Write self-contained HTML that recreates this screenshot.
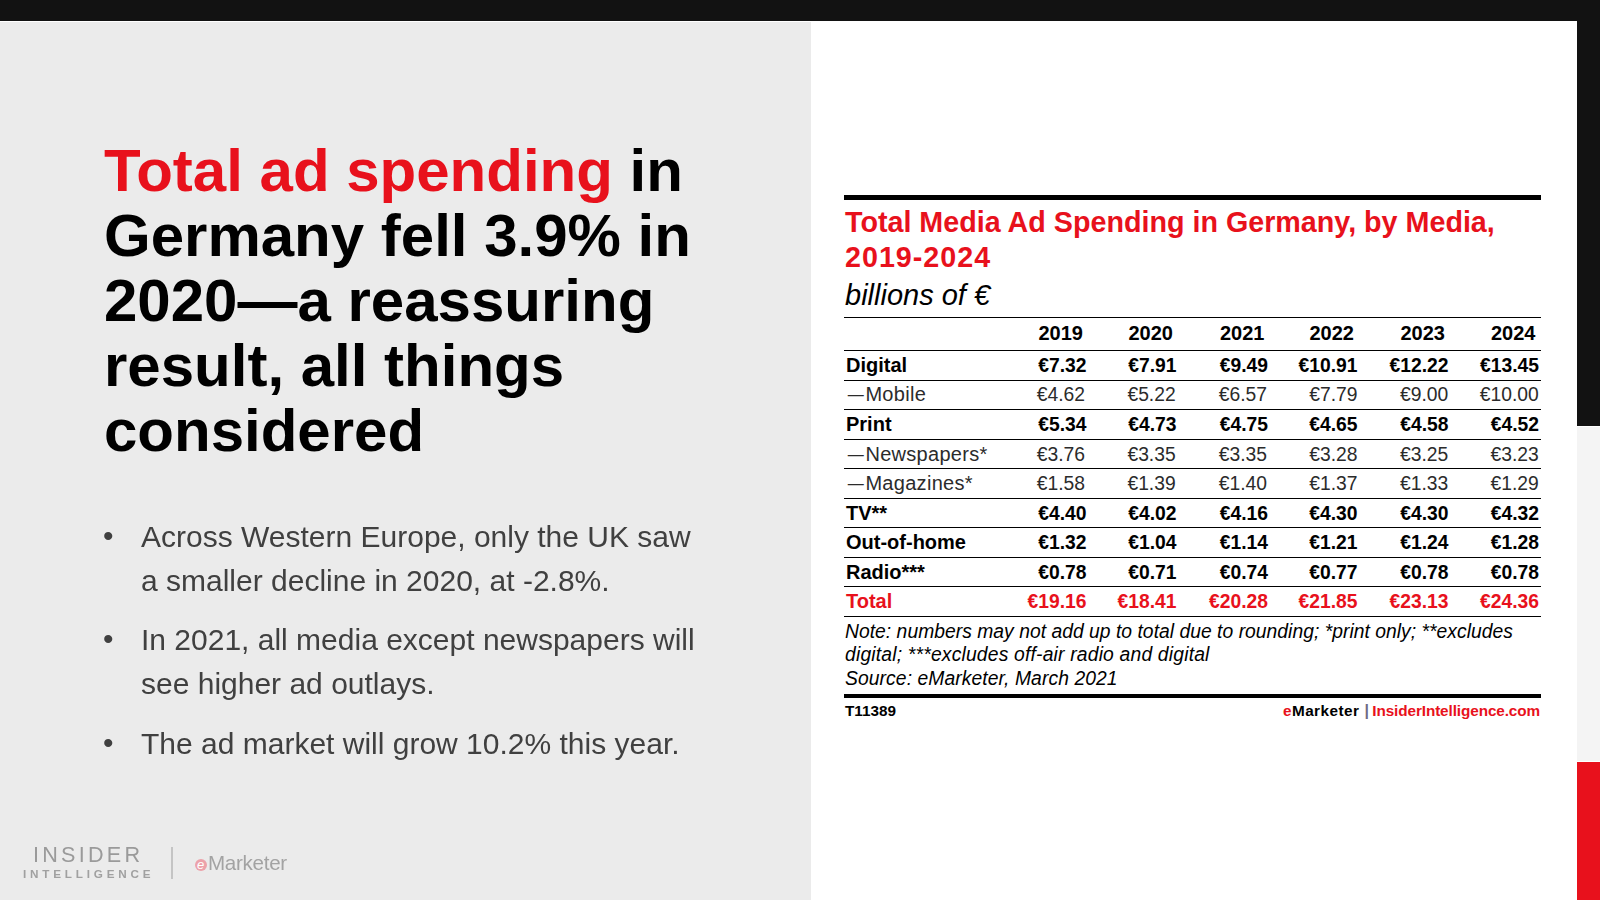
<!DOCTYPE html>
<html><head><meta charset="utf-8">
<style>
*{margin:0;padding:0;box-sizing:border-box}
html,body{width:1600px;height:900px;overflow:hidden}
body{position:relative;background:#121212;font-family:"Liberation Sans",Arial,sans-serif}
.abs{position:absolute}
#white{left:0;top:21px;width:1577px;height:879px;background:#fff}
#left{left:0;top:22px;width:811px;height:878px;background:#ebebeb}
#strip0{left:1577px;top:426px;width:23px;height:474px;background:#fff}
#strip1{left:1577px;top:427px;width:23px;height:334px;background:#f4f4f4}
#strip2{left:1577px;top:762px;width:23px;height:138px;background:#e8111c}
#title{will-change:transform;left:104px;top:138px;width:640px;font-weight:bold;font-size:60px;line-height:65px;color:#000}
#title .r{color:#e8111c}
.bul{left:104px;width:620px;font-size:30px;line-height:44px;color:#404040;will-change:transform}
.bul .dot{position:absolute;left:-1px;top:-1px}
.bul .tx{position:absolute;left:37px;white-space:nowrap}
.rule{position:absolute;left:844px;width:697px;background:#000}
.t{position:absolute;white-space:nowrap;color:#000;line-height:20px}
.red{color:#e8111c}
.b{font-weight:bold}
.it{font-style:italic}
.lt{color:#2b2b2b}
.v{text-align:right;width:100px}
</style></head>
<body>
<div id="white" class="abs"></div>
<div id="left" class="abs"></div>
<div id="strip0" class="abs"></div>
<div id="strip1" class="abs"></div>
<div id="strip2" class="abs"></div>
<div id="title" class="abs"><span class="r">Total ad spending</span> in Germany fell 3.9% in 2020—a reassuring result, all things considered</div>
<div class="abs bul" style="top:515px"><span class="dot">•</span><div class="tx">Across Western Europe, only the UK saw<br>a smaller decline in 2020, at -2.8%.</div></div>
<div class="abs bul" style="top:618px"><span class="dot">•</span><div class="tx">In 2021, all media except newspapers will<br>see higher ad outlays.</div></div>
<div class="abs bul" style="top:722px"><span class="dot">•</span><div class="tx">The ad market will grow 10.2% this year.</div></div>

<div class="rule" style="top:195px;height:5px"></div>
<div class="t red b" style="left:845px;top:207.0px;font-size:28.7px;line-height:30px">Total Media Ad Spending in Germany, by Media,</div>
<div class="t red b" style="left:845px;top:242.0px;font-size:28.7px;line-height:30px;letter-spacing:1px">2019-2024</div>
<div class="t it" style="left:845px;top:280.0px;font-size:29px;line-height:30px">billions of €</div>
<div class="rule" style="top:317px;height:1px"></div>
<div class="rule" style="top:350px;height:1px"></div>
<div class="rule" style="top:380px;height:1px"></div>
<div class="rule" style="top:409px;height:1px"></div>
<div class="rule" style="top:439px;height:1px"></div>
<div class="rule" style="top:468px;height:1px"></div>
<div class="rule" style="top:498px;height:1px"></div>
<div class="rule" style="top:527px;height:1px"></div>
<div class="rule" style="top:557px;height:1px"></div>
<div class="rule" style="top:586px;height:1px"></div>
<div class="rule" style="top:616px;height:1px"></div>
<div class="t b v" style="left:983.0px;top:323px;font-size:20px">2019</div>
<div class="t b v" style="left:1073.0px;top:323px;font-size:20px">2020</div>
<div class="t b v" style="left:1164.5px;top:323px;font-size:20px">2021</div>
<div class="t b v" style="left:1254.0px;top:323px;font-size:20px">2022</div>
<div class="t b v" style="left:1345.0px;top:323px;font-size:20px">2023</div>
<div class="t b v" style="left:1435.5px;top:323px;font-size:20px">2024</div>
<div class="t b" style="left:846px;top:355px;font-size:20.0px">Digital</div>
<div class="t b v" style="left:986.5px;top:356px;font-size:19.3px">€7.32</div>
<div class="t b v" style="left:1076.5px;top:356px;font-size:19.3px">€7.91</div>
<div class="t b v" style="left:1168.0px;top:356px;font-size:19.3px">€9.49</div>
<div class="t b v" style="left:1257.5px;top:356px;font-size:19.3px">€10.91</div>
<div class="t b v" style="left:1348.5px;top:356px;font-size:19.3px">€12.22</div>
<div class="t b v" style="left:1439.0px;top:356px;font-size:19.3px">€13.45</div>
<div class="t lt" style="left:846px;top:384px;font-size:20.0px"><span style="font-size:16px;position:relative;top:-1.5px;margin-left:1.8px;margin-right:1.6px">—</span><span style="letter-spacing:0.3px">Mobile</span></div>
<div class="t lt v" style="left:985.0px;top:385px;font-size:19.3px">€4.62</div>
<div class="t lt v" style="left:1075.7px;top:385px;font-size:19.3px">€5.22</div>
<div class="t lt v" style="left:1167.0px;top:385px;font-size:19.3px">€6.57</div>
<div class="t lt v" style="left:1257.5px;top:385px;font-size:19.3px">€7.79</div>
<div class="t lt v" style="left:1348.3px;top:385px;font-size:19.3px">€9.00</div>
<div class="t lt v" style="left:1438.8px;top:385px;font-size:19.3px">€10.00</div>
<div class="t b" style="left:846px;top:414px;font-size:20.0px">Print</div>
<div class="t b v" style="left:986.5px;top:415px;font-size:19.3px">€5.34</div>
<div class="t b v" style="left:1076.5px;top:415px;font-size:19.3px">€4.73</div>
<div class="t b v" style="left:1168.0px;top:415px;font-size:19.3px">€4.75</div>
<div class="t b v" style="left:1257.5px;top:415px;font-size:19.3px">€4.65</div>
<div class="t b v" style="left:1348.5px;top:415px;font-size:19.3px">€4.58</div>
<div class="t b v" style="left:1439.0px;top:415px;font-size:19.3px">€4.52</div>
<div class="t lt" style="left:846px;top:444px;font-size:20.0px"><span style="font-size:16px;position:relative;top:-1.5px;margin-left:1.8px;margin-right:1.6px">—</span><span style="letter-spacing:0.3px">Newspapers*</span></div>
<div class="t lt v" style="left:985.0px;top:445px;font-size:19.3px">€3.76</div>
<div class="t lt v" style="left:1075.7px;top:445px;font-size:19.3px">€3.35</div>
<div class="t lt v" style="left:1167.0px;top:445px;font-size:19.3px">€3.35</div>
<div class="t lt v" style="left:1257.5px;top:445px;font-size:19.3px">€3.28</div>
<div class="t lt v" style="left:1348.3px;top:445px;font-size:19.3px">€3.25</div>
<div class="t lt v" style="left:1438.8px;top:445px;font-size:19.3px">€3.23</div>
<div class="t lt" style="left:846px;top:473px;font-size:20.0px"><span style="font-size:16px;position:relative;top:-1.5px;margin-left:1.8px;margin-right:1.6px">—</span><span style="letter-spacing:0.3px">Magazines*</span></div>
<div class="t lt v" style="left:985.0px;top:474px;font-size:19.3px">€1.58</div>
<div class="t lt v" style="left:1075.7px;top:474px;font-size:19.3px">€1.39</div>
<div class="t lt v" style="left:1167.0px;top:474px;font-size:19.3px">€1.40</div>
<div class="t lt v" style="left:1257.5px;top:474px;font-size:19.3px">€1.37</div>
<div class="t lt v" style="left:1348.3px;top:474px;font-size:19.3px">€1.33</div>
<div class="t lt v" style="left:1438.8px;top:474px;font-size:19.3px">€1.29</div>
<div class="t b" style="left:846px;top:503px;font-size:20.0px">TV**</div>
<div class="t b v" style="left:986.5px;top:504px;font-size:19.3px">€4.40</div>
<div class="t b v" style="left:1076.5px;top:504px;font-size:19.3px">€4.02</div>
<div class="t b v" style="left:1168.0px;top:504px;font-size:19.3px">€4.16</div>
<div class="t b v" style="left:1257.5px;top:504px;font-size:19.3px">€4.30</div>
<div class="t b v" style="left:1348.5px;top:504px;font-size:19.3px">€4.30</div>
<div class="t b v" style="left:1439.0px;top:504px;font-size:19.3px">€4.32</div>
<div class="t b" style="left:846px;top:532px;font-size:20.0px">Out-of-home</div>
<div class="t b v" style="left:986.5px;top:533px;font-size:19.3px">€1.32</div>
<div class="t b v" style="left:1076.5px;top:533px;font-size:19.3px">€1.04</div>
<div class="t b v" style="left:1168.0px;top:533px;font-size:19.3px">€1.14</div>
<div class="t b v" style="left:1257.5px;top:533px;font-size:19.3px">€1.21</div>
<div class="t b v" style="left:1348.5px;top:533px;font-size:19.3px">€1.24</div>
<div class="t b v" style="left:1439.0px;top:533px;font-size:19.3px">€1.28</div>
<div class="t b" style="left:846px;top:562px;font-size:20.0px">Radio***</div>
<div class="t b v" style="left:986.5px;top:563px;font-size:19.3px">€0.78</div>
<div class="t b v" style="left:1076.5px;top:563px;font-size:19.3px">€0.71</div>
<div class="t b v" style="left:1168.0px;top:563px;font-size:19.3px">€0.74</div>
<div class="t b v" style="left:1257.5px;top:563px;font-size:19.3px">€0.77</div>
<div class="t b v" style="left:1348.5px;top:563px;font-size:19.3px">€0.78</div>
<div class="t b v" style="left:1439.0px;top:563px;font-size:19.3px">€0.78</div>
<div class="t b red" style="left:846px;top:591px;font-size:20.0px">Total</div>
<div class="t b red v" style="left:986.5px;top:592px;font-size:19.3px">€19.16</div>
<div class="t b red v" style="left:1076.5px;top:592px;font-size:19.3px">€18.41</div>
<div class="t b red v" style="left:1168.0px;top:592px;font-size:19.3px">€20.28</div>
<div class="t b red v" style="left:1257.5px;top:592px;font-size:19.3px">€21.85</div>
<div class="t b red v" style="left:1348.5px;top:592px;font-size:19.3px">€23.13</div>
<div class="t b red v" style="left:1439.0px;top:592px;font-size:19.3px">€24.36</div>
<div class="t it" style="left:845px;top:622px;font-size:19.3px;letter-spacing:0.03px">Note: numbers may not add up to total due to rounding; *print only; **excludes</div>
<div class="t it" style="left:845px;top:645px;font-size:19.3px;letter-spacing:0.19px">digital; ***excludes off-air radio and digital</div>
<div class="t it" style="left:845px;top:669px;font-size:19.3px;letter-spacing:0.09px">Source: eMarketer, March 2021</div>
<div class="rule" style="top:694px;height:4px"></div>
<div class="t b" style="left:845px;top:701.0px;font-size:15.3px">T11389</div>
<div class="t b" style="left:1283px;top:701px;font-size:15.3px;letter-spacing:0.45px"><span class="red">e</span>Marketer</div>
<div class="t" style="left:1364.5px;top:701px;font-size:16px;color:#716b84;font-weight:bold">|</div>
<div class="t b red" style="left:1240px;width:300px;text-align:right;top:701px;font-size:15.3px;letter-spacing:-0.1px">InsiderIntelligence.com</div>
<div class="abs" style="will-change:transform;left:33px;top:845px;font-size:21.6px;line-height:20px;letter-spacing:3.25px;color:#9a9a9a;white-space:nowrap">INSIDER</div>
<div class="abs" style="will-change:transform;left:22.5px;top:864px;font-size:11.7px;line-height:20px;letter-spacing:3.8px;color:#a0a0a0;font-weight:bold;white-space:nowrap">INTELLIGENCE</div>
<div class="abs" style="left:171px;top:847px;width:2px;height:32px;background:#c4c4c4"></div>
<div class="abs" style="left:194.6px;top:858.8px;width:12.2px;height:12px;border-radius:50%;background:#eca2aa;color:#fff;font-size:13px;line-height:11px;font-weight:normal;font-style:italic;text-align:center;overflow:hidden">e</div>
<div class="abs" style="will-change:transform;left:208px;top:853px;font-size:20.6px;line-height:20px;letter-spacing:-0.3px;color:#a3a3a3;white-space:nowrap">Marketer</div>
</body></html>
